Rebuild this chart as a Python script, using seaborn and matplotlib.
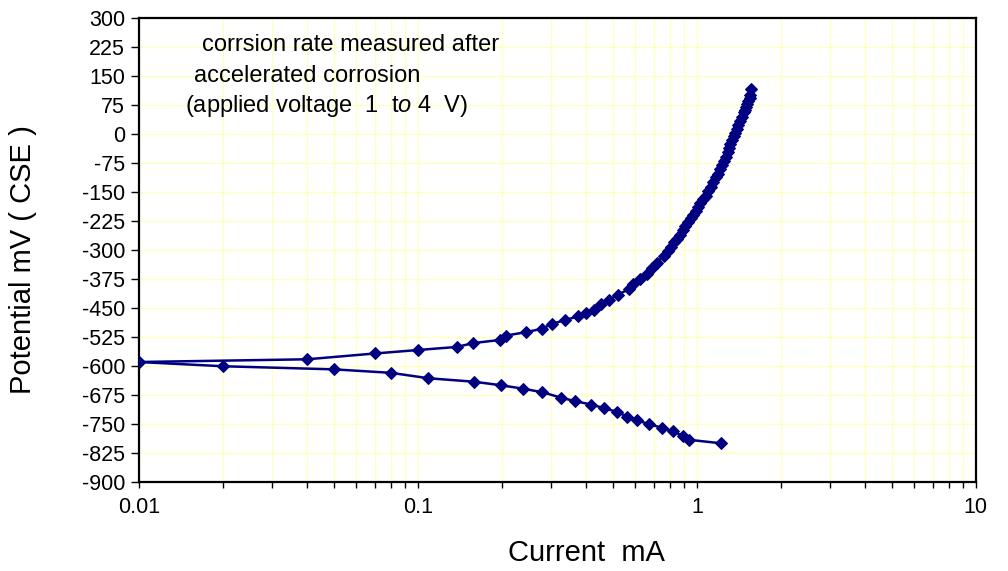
import matplotlib
matplotlib.use('Agg')
import matplotlib.pyplot as plt
import matplotlib.ticker as ticker
import numpy as np
import pandas as pd
import seaborn as sns

# anodic branch (upper curve)
anodic_current = [0.01, 0.04, 0.07, 0.10, 0.138, 0.158, 0.197, 0.206, 0.243, 0.279,
                  0.303, 0.336, 0.375, 0.40, 0.428, 0.455, 0.484, 0.52, 0.57, 0.592,
                  0.625, 0.66, 0.69, 0.72, 0.76, 0.79, 0.81, 0.83, 0.85, 0.87,
                  0.89, 0.91, 0.93, 0.95, 0.97, 0.99, 1.01, 1.03, 1.055, 1.08,
                  1.10, 1.12, 1.145, 1.17, 1.19, 1.21, 1.23, 1.25, 1.27, 1.29,
                  1.305, 1.32, 1.34, 1.36, 1.375, 1.39, 1.41, 1.43, 1.45, 1.47,
                  1.485, 1.50, 1.515, 1.53, 1.545, 1.555, 1.565]
anodic_potential = [-590, -583, -568, -559, -551, -541, -533, -522, -513, -504,
                    -491, -482, -472, -463, -455, -441, -430, -416, -402, -389,
                    -376, -363, -346, -333, -316, -303, -292, -281, -271, -261,
                    -250, -239, -229, -219, -209, -199, -189, -179, -169, -160,
                    -148, -137, -125, -113, -103, -92, -81, -70, -59, -48,
                    -37, -27, -17, -7, 3, 12, 22, 33, 44, 55,
                    62, 70, 78, 85, 93, 101, 116]

# cathodic branch (lower curve)
cathodic_current = [0.01, 0.02, 0.05, 0.08, 0.109, 0.159, 0.198, 0.238, 0.279, 0.325,
                    0.365, 0.418, 0.464, 0.517, 0.562, 0.611, 0.675, 0.751, 0.821, 0.893,
                    0.935, 1.216]
cathodic_potential = [-590, -601, -609, -618, -632, -641, -650, -659, -668, -682,
                      -691, -700, -709, -719, -731, -741, -751, -760, -769, -782,
                      -791, -800]

y_ticks = list(range(-900, 301, 75))
x_ticks = [0.01, 0.1, 1, 10]

sns.set_style('white')
plt.rcParams['font.family'] = ['Liberation Sans', 'DejaVu Sans']
plt.rcParams['axes.unicode_minus'] = False
plt.rcParams['mathtext.fontset'] = 'custom'
plt.rcParams['mathtext.rm'] = 'Liberation Sans'
plt.rcParams['mathtext.it'] = 'Liberation Sans:italic'
plt.rcParams['text.color'] = 'black'
plt.rcParams['axes.labelcolor'] = 'black'
plt.rcParams['xtick.color'] = 'black'
plt.rcParams['ytick.color'] = 'black'

navy = '#000080'
fig = plt.figure(figsize=(10.08, 5.71), dpi=100)
ax = fig.add_axes([0.138, 0.156, 0.830, 0.813])

up = pd.DataFrame({'current': anodic_current, 'potential': anodic_potential})
down = pd.DataFrame({'current': cathodic_current, 'potential': cathodic_potential})
for d in (up, down):
    sns.lineplot(data=d, x='current', y='potential', sort=False, estimator=None,
                 color=navy, linewidth=1.8, marker='D', markersize=6.5,
                 markeredgecolor=navy, ax=ax, zorder=3)

ax.set_xscale('log')
ax.set_xlim(0.01, 10)
ax.set_ylim(-900, 300)
ax.set_yticks(y_ticks)
ax.set_xticks(x_ticks)
ax.xaxis.set_major_formatter(ticker.FuncFormatter(lambda v, _: f'{v:g}'))
ax.xaxis.set_minor_locator(ticker.LogLocator(base=10, subs=np.arange(2, 10)))
ax.xaxis.set_minor_formatter(ticker.NullFormatter())

ax.grid(True, which='major', color='#ffffc0', linewidth=1)
ax.grid(True, which='minor', axis='x', color='#ffffc0', linewidth=1)
ax.set_axisbelow(True)

for s in ax.spines.values():
    s.set_linewidth(1.6)
    s.set_color('black')

ax.tick_params(axis='y', which='major', direction='out', length=6, width=1,
               labelsize=15.5, left=True, pad=4)
ax.tick_params(axis='x', which='both', direction='out', length=4, width=1,
               bottom=True, labelsize=15.5, pad=7)

ax.set_xlabel('Current  mA', fontsize=21)
ax.xaxis.set_label_coords(0.535, -0.122)
ax.set_ylabel('Potential mV ( CSE )', fontsize=21)
ax.yaxis.set_label_coords(-0.122, 0.48)

ax.text(0.075, 0.941, 'corrsion rate measured after', transform=ax.transAxes,
        fontsize=17, va='center', ha='left')
ax.text(0.066, 0.874, 'accelerated corrosion', transform=ax.transAxes,
        fontsize=17, va='center', ha='left')
ax.text(0.055, 0.809, r'(applied voltage  1  t$\mathit{o}$ $\mathit{4}$  V)',
        transform=ax.transAxes, fontsize=17, va='center', ha='left')

fig.savefig('out.png', dpi=100)
